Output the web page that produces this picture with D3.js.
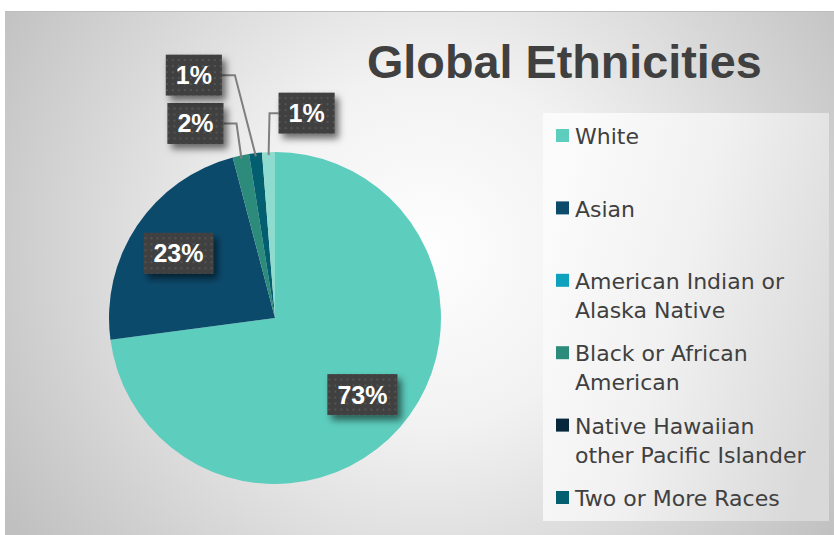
<!DOCTYPE html>
<html>
<head>
<meta charset="utf-8">
<script src="https://cdn.jsdelivr.net/npm/d3@7"></script>
<style>
  html, body { margin: 0; padding: 0; background: #fff; }
  svg { display: block; }
</style>
</head>
<body>
<svg id="chart" width="834" height="535"></svg>
<script>
const categories = ["White", "Asian", "American Indian or Alaska Native", "Black or African American",
  "Native Hawaiian other Pacific Islander", "Two or More Races", "Some Other Race"];
const shares = [72.9, 23.0, 0, 1.6, 0, 1.25, 1.25];
const sliceColors = ["#5dcdbd", "#0c4a6c", "#0ea1be", "#2d8b7b", "#07283c", "#035f70", "#8edccf"];
// legend text as it wraps in the original (last category does not fit in the legend)
const legendLines = [["White"], ["Asian"], ["American Indian or", "Alaska Native"],
  ["Black or African", "American"], ["Native Hawaiian", "other Pacific Islander"], ["Two or More Races"]];
const title = "Global Ethnicities";

// callout offsets for the thin slices (box centre relative to the slice edge point)
const callouts = {3: {dx: -46, dy: -35}, 5: {dx: -62, dy: -81}, 6: {dx: 38, dy: -42}};

const width = 834, height = 535;
const pie = {cx: 275, cy: 318, r: 166};
const legend = {x: 543, y: 113, w: 286, h: 408, top: 136, step: 72.4, lineH: 29};

const svg = d3.select("#chart");
const defs = svg.append("defs");

const bg = defs.append("radialGradient").attr("id", "bgGrad")
  .attr("gradientUnits", "userSpaceOnUse").attr("cx", 430).attr("cy", 250).attr("r", 500);
bg.append("stop").attr("offset", 0).attr("stop-color", "#fefefe");
bg.append("stop").attr("offset", 0.35).attr("stop-color", "#f2f2f2");
bg.append("stop").attr("offset", 1).attr("stop-color", "#c0c0c0");

const lg = defs.append("linearGradient").attr("id", "legGrad").attr("x1", 0).attr("x2", 1).attr("y1", 0.3).attr("y2", 0.7);
lg.append("stop").attr("offset", 0).attr("stop-color", "#fbfbfb");
lg.append("stop").attr("offset", 0.45).attr("stop-color", "#f1f1f1");
lg.append("stop").attr("offset", 1).attr("stop-color", "#d9d9d9");

const dots = defs.append("pattern").attr("id", "dots").attr("patternUnits", "userSpaceOnUse")
  .attr("width", 6).attr("height", 6);
dots.append("rect").attr("width", 6).attr("height", 6).attr("fill", "#3f3f3f");
dots.append("rect").attr("x", 2).attr("y", 2).attr("width", 2).attr("height", 2).attr("fill", "#545454");

const shadow = defs.append("filter").attr("id", "shadow").attr("x", "-30%").attr("y", "-30%")
  .attr("width", "170%").attr("height", "180%");
shadow.append("feDropShadow").attr("dx", 4).attr("dy", 5).attr("stdDeviation", 3.5)
  .attr("flood-color", "#000").attr("flood-opacity", 0.55);

svg.append("rect").attr("x", 5).attr("y", 11).attr("width", width - 5).attr("height", height - 11)
  .attr("fill", "url(#bgGrad)");
svg.append("line").attr("x1", 5).attr("x2", width).attr("y1", 11.5).attr("y2", 11.5)
  .attr("stroke", "#bdbdbd");

// title
const titleText = svg.append("text").attr("x", 367).attr("y", 78)
  .attr("font-family", "Liberation Sans, Arial, sans-serif").attr("font-weight", "bold")
  .attr("font-size", 46).attr("fill", "#404040").text(title);
const tw = titleText.node().getComputedTextLength();
titleText.attr("font-size", 46 * 395 / tw);

// pie
const color = d3.scaleOrdinal().domain(categories).range(sliceColors);
const arcs = d3.pie().sort(null).value(d => d.value)(categories.map((c, i) => ({name: c, value: shares[i], i})));
const arc = d3.arc().innerRadius(0).outerRadius(pie.r);
const labelArc = d3.arc().innerRadius(pie.r * 0.7).outerRadius(pie.r * 0.7);
const edgeArc = d3.arc().innerRadius(pie.r - 3).outerRadius(pie.r - 3);

const g = svg.append("g").attr("transform", `translate(${pie.cx},${pie.cy})`);
g.selectAll("path.slice").data(arcs.filter(d => d.value > 0)).join("path")
  .attr("class", "slice").attr("d", arc).attr("fill", d => color(d.data.name));

const fmt = d3.format(".0%");
const total = d3.sum(shares);
const labels = arcs.filter(d => d.value > 0);

labels.forEach(d => {
  const txt = fmt(d.value / total);
  const probe = g.append("text").attr("font-family", "Liberation Sans, Arial, sans-serif")
    .attr("font-weight", "bold").attr("font-size", 25).text(txt);
  const w = probe.node().getComputedTextLength() + 20, h = 41;
  probe.remove();
  let cx, cy;
  const co = callouts[d.data.i];
  if (co) {
    const [ax, ay] = edgeArc.centroid(d);
    cx = ax + co.dx; cy = ay + co.dy;
    const ex = co.dx < 0 ? cx + w / 2 + 13 : cx - w / 2 - 9;
    const edge = co.dx < 0 ? cx + w / 2 : cx - w / 2;
    g.append("path").attr("d", d3.line()([[edge, cy], [ex, cy], [ax, ay]]))
      .attr("fill", "none").attr("stroke", "#7f7f7f").attr("stroke-width", 2);
  } else {
    [cx, cy] = labelArc.centroid(d);
  }
  const lab = g.append("g").attr("transform", `translate(${cx},${cy})`);
  lab.append("rect").attr("x", -w / 2).attr("y", -h / 2).attr("width", w).attr("height", h)
    .attr("fill", "url(#dots)").attr("filter", "url(#shadow)");
  lab.append("text").attr("text-anchor", "middle").attr("dy", "0.36em")
    .attr("font-family", "Liberation Sans, Arial, sans-serif").attr("font-weight", "bold")
    .attr("font-size", 25).attr("fill", "#fff").text(txt);
});

// legend
svg.append("rect").attr("x", legend.x).attr("y", legend.y).attr("width", legend.w).attr("height", legend.h)
  .attr("fill", "url(#legGrad)");
const items = svg.append("g").selectAll("g").data(legendLines).join("g")
  .attr("transform", (d, i) => `translate(${legend.x + 13},${legend.top + i * legend.step})`);
items.append("rect").attr("x", 0).attr("y", -7).attr("width", 13).attr("height", 13)
  .attr("fill", (d, i) => color(categories[i]));
items.append("text").attr("x", 19).attr("y", 0)
  .attr("font-family", "DejaVu Sans, sans-serif").attr("font-size", 22).attr("fill", "#404040")
  .selectAll("tspan").data(d => d).join("tspan")
  .attr("x", 19).attr("dy", (d, j) => j === 0 ? "0.37em" : legend.lineH).text(d => d);
</script>
</body>
</html>
